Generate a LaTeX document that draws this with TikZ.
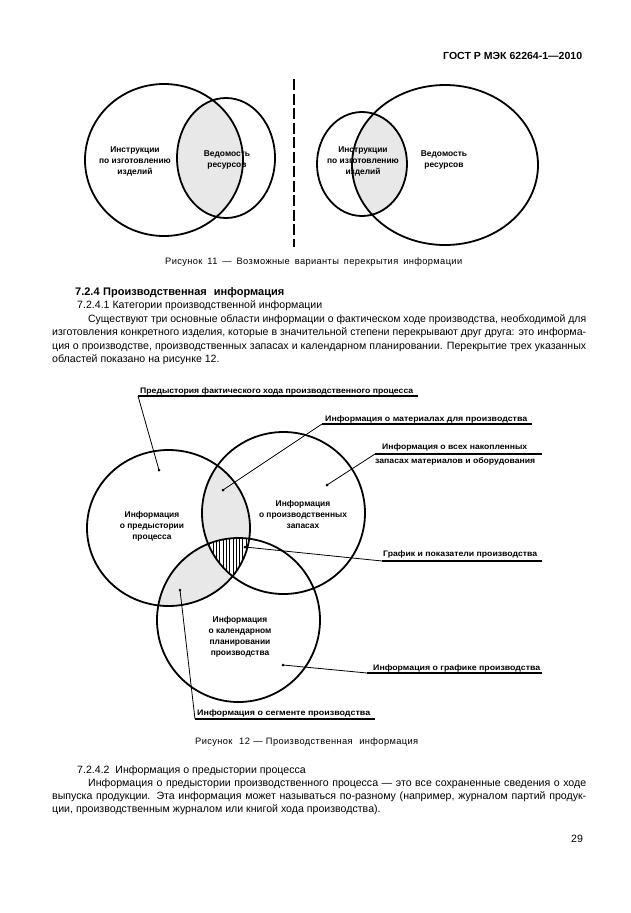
\documentclass[tikz,border=0pt]{standalone}
\usepackage{fontspec}
\usepackage{graphicx}
\setmainfont{Liberation Sans}
\definecolor{lgray}{HTML}{E8E8E8}
\newlength\jlw
\newcommand\fitw[2]{\settowidth\jlw{#2}\scalebox{\fpeval{#1/\the\jlw}}[1]{#2}}
\newcommand\jline[2]{\settowidth\jlw{#2}\ifdim\jlw>#1\relax\scalebox{\fpeval{#1/\the\jlw}}[1]{#2}\else\makebox[#1][s]{#2}\fi}
\tikzset{
  body/.style={font=\fontsize{10.6}{12}\selectfont, inner sep=0pt, anchor=base west},
  bodyb/.style={font=\fontsize{10.3}{12}\selectfont\bfseries, inner sep=0pt, anchor=base west},
  headb/.style={font=\fontsize{11}{12}\selectfont\bfseries, inner sep=0pt, anchor=base west},
  capt/.style={font=\fontsize{9.3}{11}\selectfont\addfontfeature{LetterSpace=4}, inner sep=0pt, anchor=base west},
  lab/.style={font=\fontsize{8}{10}\selectfont\bfseries, inner sep=0pt, anchor=base west},
  inner/.style={font=\fontsize{8.4}{11}\selectfont\bfseries, inner sep=0pt, align=center},
  venn/.style={line width=1.8pt},
  leader/.style={line width=0.8pt},
  uline/.style={line width=1.1pt},
  divider/.style={line width=2.6pt, dash pattern=on 11pt off 3.5pt},
}
\begin{document}
\begin{tikzpicture}[x=1pt,y=-1pt]
\fill[white] (0,0) rectangle (630,913);
\useasboundingbox (0,0) rectangle (630,913);

% header
\node[bodyb] (hdr) at (443,59) {\fitw{139pt}{ГОСТ Р МЭК 62264-1—2010}};

% ---------- Figure 11 ----------
% left pair
\begin{scope}
  \clip (164,160) ellipse [x radius=79pt, y radius=76pt];
  \fill[lgray] (226,158) ellipse [x radius=49pt, y radius=60pt];
\end{scope}
\draw[venn] (164,160) ellipse [x radius=79pt, y radius=76pt];
\draw[venn] (226,158) ellipse [x radius=49pt, y radius=60pt];
\node[inner] (f11a) at (135,161) {Инструкции\\по изготовлению\\изделий};
\node[inner] (f11b) at (227,160) {Ведомость\\ресурсов};

% divider
\coordinate (dvtop) at (294,79);
\coordinate (dvbot) at (294,247);
\draw[divider] (dvtop) -- (dvbot);

% right pair
\begin{scope}
  \clip (362,164) ellipse [x radius=45pt, y radius=52pt];
  \fill[lgray] (445,165) ellipse [x radius=93pt, y radius=80pt];
\end{scope}
\draw[venn] (362,164) ellipse [x radius=45pt, y radius=52pt];
\draw[venn] (445,165) ellipse [x radius=93pt, y radius=80pt];
\node[inner] (f11c) at (363,161) {Инструкции\\по изготовлению\\изделий};
\node[inner] (f11d) at (444,160) {Ведомость\\ресурсов};

\node[capt] (cap11) at (165,264) {\jline{297pt}{Рисунок 11 — Возможные варианты перекрытия информации}};

% ---------- Text ----------
\node[headb] (h724) at (75,295) {\jline{209pt}{7.2.4 Производственная \ информация}};
\node[body] (h7241) at (77,308.5) {7.2.4.1 Категории производственной информации};
\node[body] (p1) at (88,322) {\jline{498pt}{Существуют три основные области информации о фактическом ходе производства, необходимой для}};
\node[body] (p2) at (52,335.5) {\jline{534pt}{изготовления конкретного изделия, которые в значительной степени перекрывают друг друга: это информа-}};
\node[body] (p3) at (52,349) {\jline{534pt}{ция о производстве, производственных запасах и календарном планировании. Перекрытие трех указанных}};
\node[body] (p4) at (52,362.5) {областей показано на рисунке 12.};

% ---------- Figure 12 ----------
\def\cA{(168.5,528) ellipse [x radius=81.5pt, y radius=78pt]}
\def\cB{(283.5,513) ellipse [x radius=81.5pt, y radius=81pt]}
\def\cC{(238.5,620) ellipse [x radius=81.5pt, y radius=82pt]}
\begin{scope}
  \clip \cA;
  \fill[lgray] \cB;
  \fill[lgray] \cC;
\end{scope}
\begin{scope}
  \clip \cA;
  \clip \cB;
  \fill[white] \cC;
  \clip \cC;
  \foreach \hx in {200,203.3,...,262} \draw[line width=0.9pt] (\hx,525) -- (\hx,595);
\end{scope}
\draw[venn] \cA;
\draw[venn] \cB;
\draw[venn] \cC;

\node[inner] (tA) at (152,526) {Информация\\о предыстории\\процесса};
\node[inner] (tB) at (303,514) {Информация\\о производственных\\запасах};
\node[inner] (tC) at (240,637) {Информация\\о календарном\\планировании\\производства};

% labels
\node[lab] (l1) at (140,393) {\fitw{273pt}{Предыстория фактического хода производственного процесса}};
\coordinate (u1a) at (138,396); \coordinate (u1b) at (418,396); \coordinate (d1) at (159,470);
\draw[uline] (u1b) -- (u1a);
\draw[leader] (u1a) -- (d1);
\fill (d1) circle [radius=1.5pt];

\node[lab] (l2) at (325,421) {\fitw{202pt}{Информация о материалах для производства}};
\coordinate (u2a) at (322,424); \coordinate (u2b) at (532,424); \coordinate (d2) at (223,490);
\draw[uline] (u2b) -- (u2a);
\draw[leader] (u2a) -- (d2);
\fill (d2) circle [radius=1.5pt];

\node[lab] (l3a) at (382,449) {\fitw{145pt}{Информация о всех накопленных}};
\node[lab] (l3b) at (375,463) {\fitw{160pt}{запасах материалов и оборудования}};
\coordinate (u3a) at (375,454); \coordinate (u3b) at (542,454); \coordinate (d3) at (327,485);
\draw[uline] (u3b) -- (u3a);
\draw[leader] (u3a) -- (d3);
\fill (d3) circle [radius=1.5pt];

\node[lab] (l4) at (383,556) {\fitw{154pt}{График и показатели производства}};
\coordinate (u4a) at (382,561); \coordinate (u4b) at (542,561); \coordinate (d4) at (245,547);
\draw[uline] (u4b) -- (u4a);
\draw[leader] (u4a) -- (d4);
\fill (d4) circle [radius=1.5pt];

\node[lab] (l5) at (373,670) {\fitw{167pt}{Информация о графике производства}};
\coordinate (u5a) at (367,673); \coordinate (u5b) at (542,673); \coordinate (d5) at (283,665);
\draw[uline] (u5b) -- (u5a);
\draw[leader] (u5a) -- (d5);
\fill (d5) circle [radius=1.5pt];

\node[lab] (l6) at (197,715) {\fitw{173pt}{Информация о сегменте производства}};
\coordinate (u6a) at (195,719); \coordinate (u6b) at (375,719); \coordinate (d6) at (180,590);
\draw[uline] (u6b) -- (u6a);
\draw[leader] (u6a) -- (d6);
\fill (d6) circle [radius=1.5pt];

\node[capt] (cap12) at (195,744) {\jline{223pt}{Рисунок \ 12 — Производственная \ информация}};

% ---------- Text bottom ----------
\node[body] (h7242) at (77,773) {7.2.4.2 \ Информация о предыстории процесса};
\node[body] (q1) at (88,786.3) {\jline{498pt}{Информация о предыстории производственного процесса — это все сохраненные сведения о ходе}};
\node[body] (q2) at (52,799.6) {\jline{534pt}{выпуска продукции. Эта информация может называться по-разному (например, журналом партий продук-}};
\node[body] (q3) at (52,812.9) {ции, производственным журналом или книгой хода производства).};

\node[body] (pg) at (571,842) {29};
\end{tikzpicture}
\end{document}
